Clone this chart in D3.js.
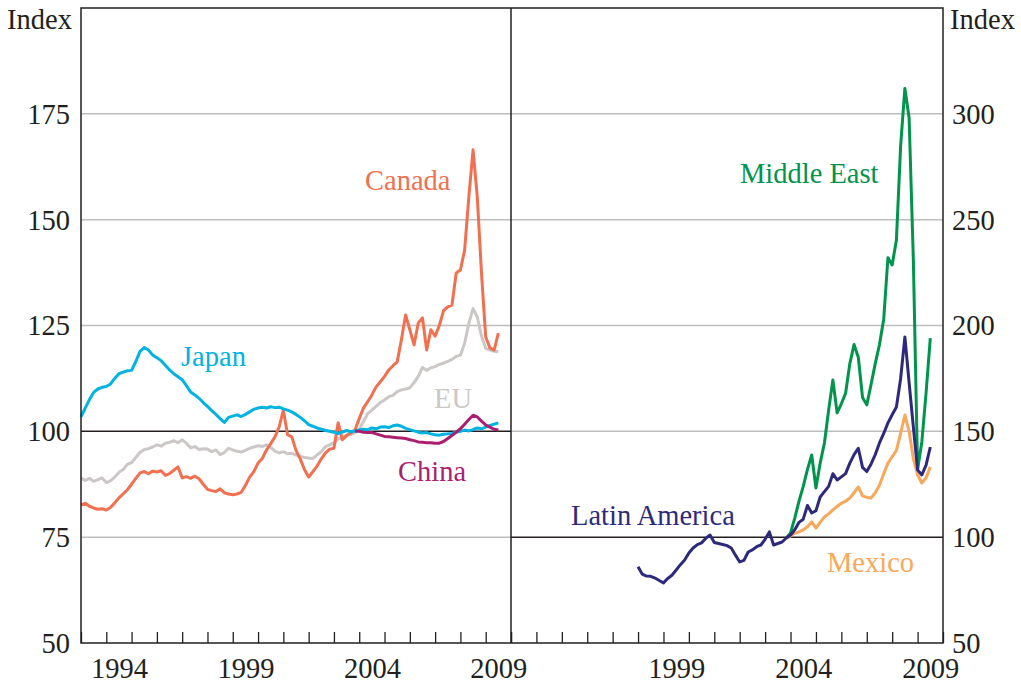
<!DOCTYPE html>
<html>
<head>
<meta charset="utf-8">
<script src="https://cdn.jsdelivr.net/npm/d3@7"></script>
<style>
  body { margin: 0; background: #fff; }
  svg { display: block; font-family: "Liberation Serif", "Times New Roman", serif; }
</style>
</head>
<body>
<svg id="chart" width="1021" height="685"></svg>
<script>
// ---- data (2-month steps, 6 values per year) ----
const leftStart = 1993;        // Japan, EU, Canada start Jan 1993
const step = 1 / 6;

const japan = [
  103.4, 105.5, 107.5, 109.2, 110.0, 110.4,
  110.6, 111.2, 112.5, 113.6, 114.0, 114.3,
  114.4, 116.5, 118.9, 119.8, 119.2, 118.0,
  117.4, 116.7, 115.6, 114.5, 113.6, 112.9,
  112.2, 110.8, 109.3, 108.6, 107.8, 106.8,
  105.9, 104.9, 104.0, 103.0, 102.1, 103.3,
  103.6, 103.9, 103.5, 104.0, 104.6, 105.2,
  105.5, 105.7, 105.5, 105.8, 105.6, 105.7,
  105.3, 105.0, 104.6, 104.0, 103.3, 102.5,
  101.6, 101.2, 100.8, 100.5, 100.2, 100.0,
  99.8, 99.5, 99.8, 100.2, 99.9, 100.1,
  100.3, 100.5, 100.4, 100.8, 100.6, 101.0,
  101.1, 100.9, 101.3, 101.5, 101.2, 100.7,
  100.4, 100.1, 99.8, 99.6, 99.7, 99.4,
  99.2, 99.1, 99.3, 99.4, 99.5, 99.8,
  100.0, 100.3, 100.1, 100.4, 100.8, 100.6,
  101.0, 101.4, 101.7, 102.0
];

const eu = [
  89.0, 88.4, 88.9, 88.2, 88.6, 89.0,
  87.9, 88.3, 89.2, 90.3, 91.0, 92.2,
  92.6, 93.8, 95.0, 95.7, 95.9, 96.3,
  96.8, 96.5, 97.2, 97.4, 97.8, 97.3,
  98.0, 97.2, 96.1, 96.4, 95.7, 95.9,
  95.8, 95.2, 95.6, 94.5, 95.0, 96.0,
  95.6, 95.3, 95.1, 95.5, 96.0, 96.3,
  96.6, 96.4, 96.8, 96.2, 95.3, 94.9,
  95.2, 94.7, 94.8, 94.4, 94.1, 93.8,
  93.7, 93.6, 94.4, 95.2, 96.4, 96.8,
  97.3, 98.2, 98.5, 99.1, 99.2, 99.7,
  100.5, 102.3, 104.2, 105.0, 105.9, 106.8,
  107.4, 108.2, 108.5, 109.4, 109.8, 110.0,
  110.3, 111.5, 113.0, 115.1, 114.4, 115.0,
  115.3, 115.8, 116.1, 116.5, 117.0, 117.7,
  118.0, 120.8, 125.5, 129.0, 127.0, 122.5,
  119.6, 119.2, 118.9, 118.8
];

const canada = [
  82.6, 83.0, 82.3, 81.9, 81.6, 81.7,
  81.4, 82.0, 83.1, 84.3, 85.2, 86.2,
  87.5, 88.9, 90.2, 90.5, 90.0, 90.6,
  90.4, 90.7, 89.6, 90.0, 90.8, 91.6,
  89.0, 89.3, 88.9, 89.4, 88.8, 87.5,
  86.3, 86.0, 85.8, 86.4, 85.5, 85.2,
  85.0, 85.2, 85.6, 87.2, 89.2, 90.5,
  92.5, 93.6, 95.6, 97.1, 98.7, 101.0,
  105.0, 99.2, 98.7, 95.5, 93.5, 91.0,
  89.2, 90.5, 91.8, 93.5, 94.9, 95.8,
  96.0, 102.0, 98.0, 99.0, 99.6, 100.3,
  103.0, 105.5, 107.0, 108.6, 110.5, 111.7,
  113.0, 114.5, 115.5, 116.4, 121.6, 127.5,
  124.0, 120.4, 125.6, 126.8, 119.2, 124.0,
  122.5, 125.0, 128.5, 129.4, 129.8, 137.4,
  138.1, 142.8, 155.4, 166.5, 155.4, 137.4,
  122.3, 119.7, 119.2, 123.2
];

// China, Middle East and Mexico start Nov 2003
const lateStart = 2003 + 5 / 6;
const china = [
  100.0,
  100.0, 99.8, 99.7, 99.7, 99.4, 99.1,
  98.8, 98.7, 98.6, 98.5, 98.4, 98.3,
  98.0, 97.8, 97.5, 97.4, 97.3, 97.3,
  97.2, 97.2, 97.6, 98.3, 99.0, 99.8,
  100.6, 101.7, 102.8, 103.8, 103.4, 102.4,
  101.5, 101.0, 100.5, 100.3
];

// Latin America starts Jan 1998
const latamStart = 1998;
const latinAmerica = [
  86.0, 82.5, 81.6, 81.5, 80.7, 79.5,
  78.4, 80.5, 82.0, 84.5, 87.0, 89.2,
  92.5, 94.9, 96.5, 97.3, 99.5, 101.0,
  97.5, 97.0, 96.5, 96.0, 94.9, 91.5,
  88.3, 89.0, 93.0, 94.0, 95.5, 96.3,
  99.0, 102.5, 96.3, 97.0, 97.7, 99.6,
  101.0, 103.5, 107.0, 108.5, 115.0, 111.4,
  112.5, 119.0, 121.5, 124.0, 130.0, 127.0,
  128.5, 130.0, 135.0, 139.0, 142.0, 133.0,
  131.0, 134.5, 139.0, 144.5, 149.0, 154.0,
  157.8, 161.5, 175.0, 194.6, 173.0, 152.0,
  131.8, 129.4, 134.0, 142.6
];

const middleEast = [
  99.6,
  102.0, 109.0, 117.0, 124.0, 132.0, 138.8,
  123.2, 135.0, 144.5, 160.0, 174.3, 158.7,
  163.0, 168.0, 182.0, 191.0, 185.0, 166.0,
  162.5, 172.0, 182.0, 191.0, 203.0, 232.0,
  228.6, 240.4, 285.0, 312.0, 298.0, 231.0,
  132.0, 145.0, 168.0, 194.0
];

const mexico = [
  99.6,
  100.5, 101.8, 102.5, 103.4, 105.0, 107.2,
  104.3, 107.0, 109.5, 111.0, 112.9, 114.5,
  116.0, 117.0, 118.5, 121.0, 123.7, 119.5,
  118.8, 118.5, 121.0, 124.5, 130.0, 135.0,
  138.0, 141.0, 149.0, 157.7, 150.0, 137.0,
  129.5, 125.6, 128.0, 133.2
];

const yearTicks = d3.range(1993, 2011);
const leftYearLabels = [1994, 1999, 2004, 2009];
const rightYearLabels = [1999, 2004, 2009];
const leftYTicks = [50, 75, 100, 125, 150, 175];
const rightYTicks = [50, 100, 150, 200, 250, 300];

// ---- layout ----
const plotTop = 8, plotBottom = 643;
const lx0 = 81, lx1 = 511, rx0 = 511, rx1 = 943;
const fontSize = 28.5;
const ink = '#231f20';

const svg = d3.select('#chart');

const xL = d3.scaleLinear().domain([1993, 2010]).range([lx0, lx1]);
const xR = d3.scaleLinear().domain([1993, 2010]).range([rx0, rx1]);
const yL = d3.scaleLinear().domain([50, 200]).range([plotBottom, plotTop]);
const yR = d3.scaleLinear().domain([50, 350]).range([plotBottom, plotTop]);

// gridlines
svg.append('g').selectAll('line')
  .data([75, 125, 150, 175])
  .enter().append('line')
  .attr('x1', lx0).attr('x2', lx1)
  .attr('y1', d => yL(d)).attr('y2', d => yL(d))
  .attr('stroke', '#bdbdbd').attr('stroke-width', 1.5);

svg.append('g').selectAll('line')
  .data([150, 200, 250, 300])
  .enter().append('line')
  .attr('x1', rx0).attr('x2', rx1)
  .attr('y1', d => yR(d)).attr('y2', d => yR(d))
  .attr('stroke', '#bdbdbd').attr('stroke-width', 1.5);

// base lines at 100
svg.append('line')
  .attr('x1', lx0).attr('x2', lx1)
  .attr('y1', yL(100)).attr('y2', yL(100))
  .attr('stroke', ink).attr('stroke-width', 1.5);
svg.append('line')
  .attr('x1', rx0).attr('x2', rx1)
  .attr('y1', yR(100)).attr('y2', yR(100))
  .attr('stroke', ink).attr('stroke-width', 1.5);

// series
function toPoints(values, start) {
  return values.map((v, i) => ({ t: start + i * step, v }));
}

const lineL = d3.line().x(d => xL(d.t)).y(d => yL(d.v));
const lineR = d3.line().x(d => xR(d.t)).y(d => yR(d.v));

const leftSeries = [
  { values: eu, start: leftStart, color: '#cbc7c6' },
  { values: canada, start: leftStart, color: '#f26f4f' },
  { values: japan, start: leftStart, color: '#00b3e3' },
  { values: china, start: lateStart, color: '#ab1f6e' }
];
const rightSeries = [
  { values: mexico, start: lateStart, color: '#f9a85a' },
  { values: middleEast, start: lateStart, color: '#00944c' },
  { values: latinAmerica, start: latamStart, color: '#2d2a7d' }
];

svg.append('g').selectAll('path')
  .data(leftSeries)
  .enter().append('path')
  .attr('d', d => lineL(toPoints(d.values, d.start)))
  .attr('fill', 'none')
  .attr('stroke', d => d.color)
  .attr('stroke-width', 3)
  .attr('stroke-linejoin', 'round');

svg.append('g').selectAll('path')
  .data(rightSeries)
  .enter().append('path')
  .attr('d', d => lineR(toPoints(d.values, d.start)))
  .attr('fill', 'none')
  .attr('stroke', d => d.color)
  .attr('stroke-width', 3)
  .attr('stroke-linejoin', 'round');

// frame
svg.append('rect')
  .attr('x', lx0).attr('y', plotTop)
  .attr('width', rx1 - lx0).attr('height', plotBottom - plotTop)
  .attr('fill', 'none').attr('stroke', ink).attr('stroke-width', 1.5);
svg.append('line')
  .attr('x1', lx1).attr('x2', lx1).attr('y1', plotTop).attr('y2', plotBottom)
  .attr('stroke', ink).attr('stroke-width', 1.5);

// x ticks (inward)
function xTicks(scale) {
  const g = svg.append('g')
    .attr('transform', `translate(0,${plotBottom})`)
    .call(d3.axisBottom(scale).tickValues(yearTicks).tickSize(-11).tickFormat(''));
  g.select('.domain').remove();
  g.selectAll('line').attr('stroke', ink).attr('stroke-width', 1.3);
}
xTicks(xL);
xTicks(xR);

// x labels at mid-year
function xLabels(scale, years) {
  const g = svg.append('g')
    .attr('transform', `translate(0,${plotBottom})`)
    .call(d3.axisBottom(scale).tickValues(years.map(y => y + 0.5))
      .tickSize(0).tickPadding(0).tickFormat(d => String(Math.floor(d))));
  g.select('.domain').remove();
  g.selectAll('text')
    .attr('y', 35).attr('dy', null)
    .attr('font-size', fontSize)
    .attr('font-family', '"Liberation Serif", serif')
    .attr('fill', ink);
}
xLabels(xL, leftYearLabels);
xLabels(xR, rightYearLabels);

// y labels
const gl = svg.append('g')
  .attr('transform', `translate(${lx0},0)`)
  .call(d3.axisLeft(yL).tickValues(leftYTicks).tickSize(0).tickPadding(11));
gl.select('.domain').remove();
gl.selectAll('text')
  .attr('font-size', fontSize).attr('font-family', '"Liberation Serif", serif')
  .attr('fill', ink).attr('dy', '0.33em');

const gr = svg.append('g')
  .attr('transform', `translate(${rx1},0)`)
  .call(d3.axisRight(yR).tickValues(rightYTicks).tickSize(0).tickPadding(9));
gr.select('.domain').remove();
gr.selectAll('text')
  .attr('font-size', fontSize).attr('font-family', '"Liberation Serif", serif')
  .attr('fill', ink).attr('dy', '0.33em');

// unit labels
svg.append('text').attr('x', 72).attr('y', 29).attr('text-anchor', 'end')
  .attr('font-size', fontSize).attr('fill', ink).text('Index');
svg.append('text').attr('x', 950).attr('y', 29)
  .attr('font-size', fontSize).attr('fill', ink).text('Index');

// series labels
const labels = [
  { text: 'Canada', x: 365, y: 190, color: '#f26f4f' },
  { text: 'Japan', x: 181, y: 366, color: '#00b3e3' },
  { text: 'EU', x: 434, y: 408, color: '#cbc7c6' },
  { text: 'China', x: 398, y: 481, color: '#ab1f6e' },
  { text: 'Middle East', x: 740, y: 183, color: '#00944c' },
  { text: 'Latin America', x: 571, y: 525, color: '#2d2a7d' },
  { text: 'Mexico', x: 827, y: 572, color: '#f9a85a' }
];
svg.append('g').selectAll('text')
  .data(labels)
  .enter().append('text')
  .attr('x', d => d.x).attr('y', d => d.y)
  .attr('font-size', fontSize)
  .attr('fill', d => d.color)
  .text(d => d.text);
</script>
</body>
</html>
